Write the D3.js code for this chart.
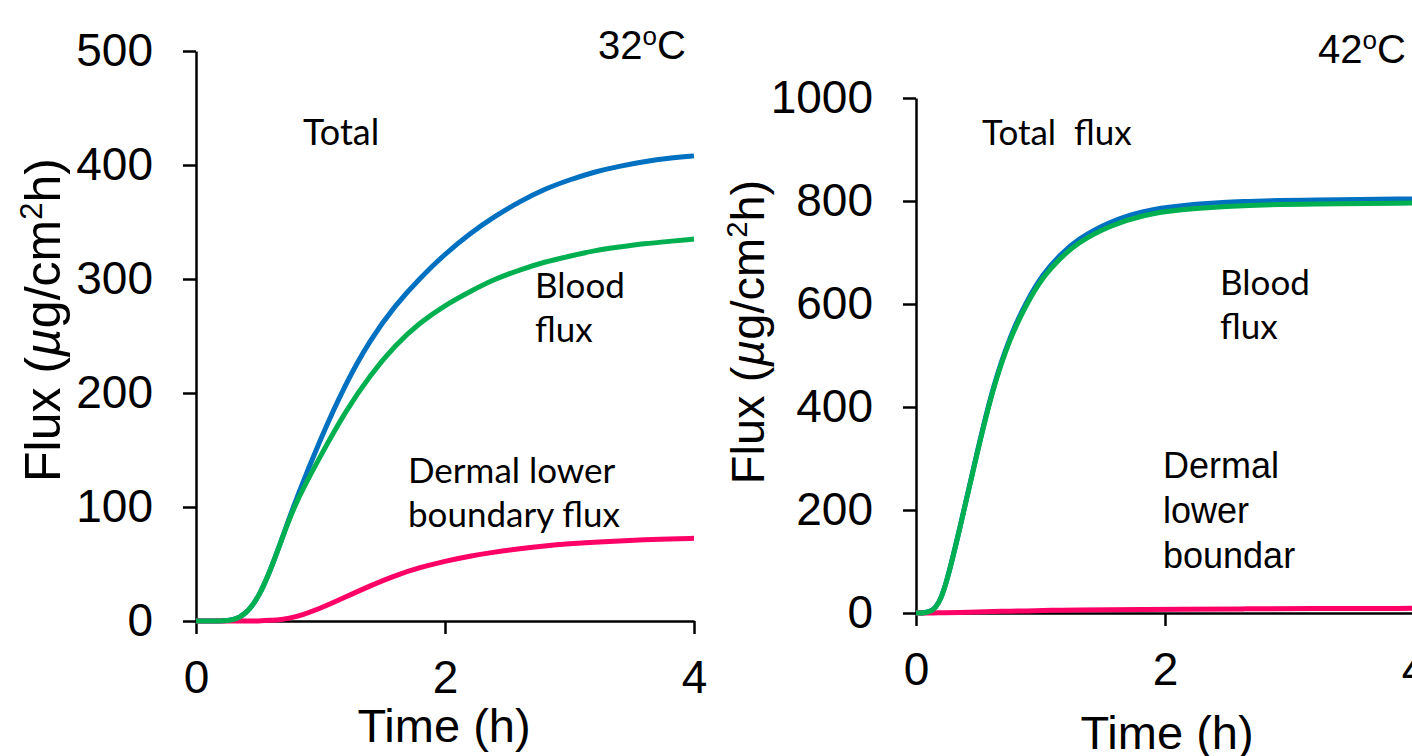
<!DOCTYPE html>
<html>
<head>
<meta charset="utf-8">
<script src="https://cdn.jsdelivr.net/npm/d3@7"></script>
<style>
  html, body { margin: 0; padding: 0; background: #fff; }
  svg { display: block; }
  .axis path, .axis line { stroke: #000; stroke-width: 2.5px; }
  .axis text { font-family: "Liberation Sans", Arial, sans-serif; fill: #000; }
</style>
</head>
<body>
<svg id="chart" width="1412" height="756"></svg>
<script>
// ---- 32 °C simulation (time in h, flux in µg/cm²h) ----
const time32   = [0, 0.2, 0.3, 0.4, 0.5, 0.6, 0.7, 0.8, 1.0, 1.2, 1.4, 1.6, 1.8, 2.0, 2.2, 2.4, 2.6, 2.8, 3.0, 3.2, 3.4, 3.6, 3.8, 4.0];
const total32  = [0, 0, 0.5, 6, 20, 45, 75, 106, 160, 208, 247, 277, 301, 322, 340, 355, 368, 379, 387, 394, 399, 403, 406, 408];
const blood32  = [0, 0, 0.5, 6, 20, 45, 75, 104, 145, 184, 216, 242, 262, 277, 289, 300, 308, 315, 320, 325, 328, 331, 333, 335];
const dermal32 = [0, 0, 0, 0, 0, 0.5, 1.5, 3.2, 11, 21, 31, 40, 47, 52.5, 57, 60.5, 63.5, 66, 67.8, 69.2, 70.3, 71.2, 71.9, 72.5];

// ---- 42 °C simulation ----
const time42   = [0, 0.14, 0.22, 0.35, 0.49, 0.62, 0.76, 0.89, 1.02, 1.16, 1.29, 1.56, 1.83, 2.09, 2.63, 3.16, 4.0];
const total42  = [0, 0, 32, 162, 312, 442, 541, 606, 659, 696, 725, 761, 781, 791, 800, 802, 804];
const blood42  = [0, 0, 32, 161, 310, 439, 537, 601, 653, 689, 718, 753, 773, 783, 792, 794, 796];
const dermal42 = [0, 0, 0.5, 1, 2, 3, 3.5, 4, 5, 5.5, 6, 6.5, 7, 7.5, 8, 8.5, 9];

const xTicks   = [0, 2, 4];
const yTicks32 = [0, 100, 200, 300, 400, 500];
const yTicks42 = [0, 200, 400, 600, 800, 1000];

const COLORS = { total: "#0070C0", blood: "#00B050", dermal: "#FF0066" };

const svg = d3.select("#chart");
const arialLike = "'Liberation Sans', Arial, sans-serif";
const calibriLike = "Lato, 'Open Sans', sans-serif";

function panel(cfg) {
  const x = d3.scaleLinear().domain([0, 4]).range(cfg.xRange);
  const y = d3.scaleLinear().domain(cfg.yDomain).range(cfg.yRange);
  const g = svg.append("g");

  g.append("g").attr("class", "axis")
    .attr("transform", `translate(0,${cfg.yRange[0]})`)
    .call(d3.axisBottom(x).tickValues(xTicks).tickFormat(d3.format("d"))
      .tickSize(13).tickSizeOuter(0).tickPadding(26))
    .call(s => s.selectAll("text").style("font-size", "46px"));

  g.append("g").attr("class", "axis")
    .attr("transform", `translate(${cfg.xRange[0]},0)`)
    .call(d3.axisLeft(y).tickValues(cfg.yTicks).tickFormat(d3.format("d"))
      .tickSize(13).tickSizeOuter(0).tickPadding(30))
    .call(s => s.selectAll("text").style("font-size", "46px"));

  const line = d3.line()
    .x((d, i) => x(cfg.time[i]))
    .y(d => y(d))
    .curve(d3.curveBasis);

  // total first, blood flux drawn last so it sits on top
  const series = [
    { vals: cfg.total,  color: COLORS.total },
    { vals: cfg.dermal, color: COLORS.dermal },
    { vals: cfg.blood,  color: COLORS.blood }
  ];
  g.selectAll("path.series").data(series).join("path")
    .attr("class", "series")
    .attr("d", d => line(d.vals))
    .attr("fill", "none")
    .attr("stroke", d => d.color)
    .attr("stroke-width", 5);

  // axis titles
  g.append("text")
    .attr("x", cfg.xTitle[0]).attr("y", cfg.xTitle[1])
    .attr("text-anchor", "middle")
    .style("font-family", arialLike)
    .style("font-size", "47px")
    .text("Time (h)");

  const fs = cfg.yTitleSize;
  const yt = g.append("text")
    .attr("transform", `translate(${cfg.yTitle[0]},${cfg.yTitle[1]}) rotate(-90)`)
    .attr("text-anchor", "middle")
    .style("font-family", arialLike)
    .style("font-size", fs + "px");
  yt.append("tspan").text("Flux (");
  yt.append("tspan").style("font-style", "italic").text("\u00B5");
  yt.append("tspan").text("g/cm");
  yt.append("tspan").attr("dy", -fs * 0.36).style("font-size", (fs * 0.62) + "px").text("2");
  yt.append("tspan").attr("dy", fs * 0.36).text("h)");

  // temperature tag
  const tt = g.append("text")
    .attr("x", cfg.temp[0]).attr("y", cfg.temp[1])
    .style("font-family", arialLike)
    .style("font-size", "40px");
  tt.append("tspan").text(cfg.tempLabel);
  tt.append("tspan").attr("dy", -14).style("font-size", "26px").text("o");
  tt.append("tspan").attr("dy", 14).text("C");

  // curve annotations
  cfg.notes.forEach(n => {
    const t = g.append("text")
      .style("font-family", n.font)
      .style("font-size", n.size + "px")
      .style("white-space", "pre");
    n.lines.forEach((s, i) => {
      t.append("tspan").attr("x", n.x).attr("y", n.y + i * n.lh).text(s);
    });
  });
}

panel({
  xRange: [196, 694], yRange: [621, 51], yDomain: [0, 500], yTicks: yTicks32,
  time: time32, total: total32, blood: blood32, dermal: dermal32,
  xTitle: [444, 742], yTitle: [60, 320], yTitleSize: 50,
  temp: [598, 59], tempLabel: "32",
  notes: [
    { lines: ["Total"], x: 303, y: 145, lh: 0, size: 36, font: calibriLike },
    { lines: ["Blood", "flux"], x: 535, y: 298, lh: 44, size: 35, font: calibriLike },
    { lines: ["Dermal lower", "boundary flux"], x: 408, y: 483, lh: 44, size: 35, font: calibriLike }
  ]
});

panel({
  xRange: [916, 1414], yRange: [613, 98], yDomain: [0, 1000], yTicks: yTicks42,
  time: time42, total: total42, blood: blood42, dermal: dermal42,
  xTitle: [1167, 749], yTitle: [764, 332], yTitleSize: 47,
  temp: [1318, 63], tempLabel: "42",
  notes: [
    { lines: ["Total  flux"], x: 982, y: 145, lh: 0, size: 35, font: calibriLike },
    { lines: ["Blood", "flux"], x: 1220, y: 295, lh: 44, size: 35, font: calibriLike },
    { lines: ["Dermal", "lower", "boundar"], x: 1163, y: 478, lh: 45, size: 36, font: arialLike }
  ]
});
</script>
</body>
</html>
